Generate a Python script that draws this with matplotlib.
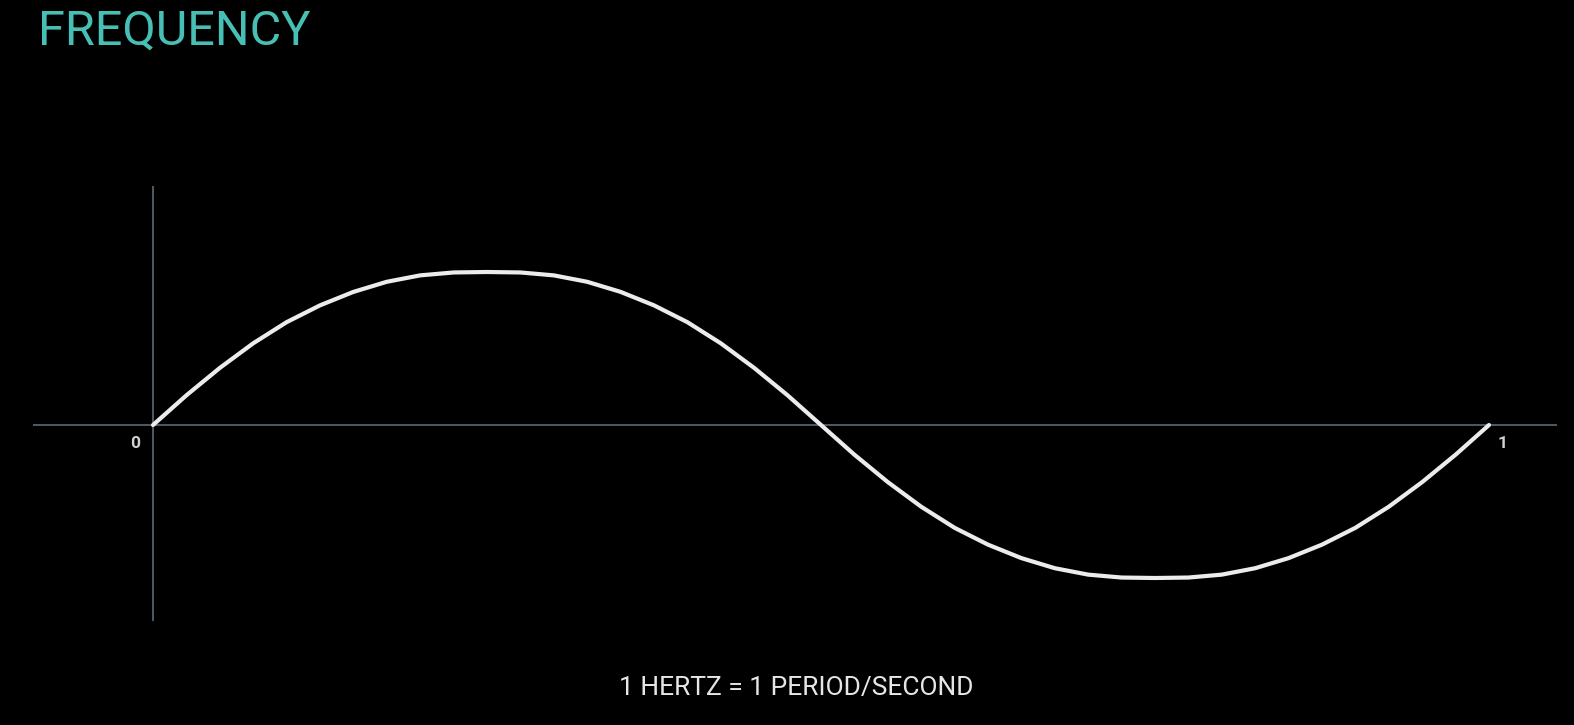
import matplotlib.pyplot as plt

# Values: one period of the wave, time in seconds
t_sec = [0.000, 0.025, 0.050, 0.075, 0.100, 0.125, 0.150, 0.175, 0.200, 0.225,
         0.250, 0.275, 0.300, 0.325, 0.350, 0.375, 0.400, 0.425, 0.450, 0.475,
         0.500, 0.525, 0.550, 0.575, 0.600, 0.625, 0.650, 0.675, 0.700, 0.725,
         0.750, 0.775, 0.800, 0.825, 0.850, 0.875, 0.900, 0.925, 0.950, 0.975,
         1.000]
amplitude = [0.000, 0.194, 0.373, 0.534, 0.672, 0.782, 0.870, 0.936, 0.978, 0.997,
             1.000, 0.997, 0.978, 0.936, 0.870, 0.782, 0.672, 0.534, 0.373, 0.194,
             0.000, -0.194, -0.373, -0.534, -0.672, -0.782, -0.870, -0.936, -0.978, -0.997,
             -1.000, -0.997, -0.978, -0.936, -0.870, -0.782, -0.672, -0.534, -0.373, -0.194,
             0.000]
tick_labels = ['0', '1']

title = 'FREQUENCY'
caption = '1 HERTZ = 1 PERIOD/SECOND'

W, H = 1574, 725
fig = plt.figure(figsize=(W / 100, H / 100), dpi=100, facecolor='black')

# axes box follows the drawn axis lines (pixels 33..1557 wide, 186..621 tall)
ax = fig.add_axes([33 / W, (H - 621) / H, (1557 - 33) / W, (621 - 186) / H])
ax.set_facecolor('black')
ax.set_xlim((33 - 153) / 1336, (1557 - 153) / 1336)
ax.set_ylim((425 - 621) / 153, (425 - 186) / 153)
for s in ax.spines.values():
    s.set_visible(False)
ax.set_xticks([])
ax.set_yticks([])

axis_col = '#56616c'
ax.axhline(0, color=axis_col, lw=1.3, zorder=1)
ax.axvline(0, color=axis_col, lw=1.3, zorder=1)

ax.plot(t_sec, amplitude, color='#ececec', lw=3.0, solid_capstyle='round',
        solid_joinstyle='round', zorder=2)

# tick labels at both ends of the period
ax.annotate(tick_labels[0], (0, 0), xytext=(-12.6, -13), textcoords='offset points',
            ha='center', va='center', color='#d2d2d2', fontsize=12.5,
            fontfamily='Roboto', fontweight='bold')
ax.annotate(tick_labels[1], (1, 0), xytext=(10, -13), textcoords='offset points',
            ha='center', va='center', color='#d2d2d2', fontsize=12.5,
            fontfamily='Roboto', fontweight='bold')

fig.text(38 / W, 1 - 32 / H, title, ha='left', va='center', color='#47bfb5',
         fontsize=35, fontfamily='Roboto', fontweight='normal')
fig.text(796 / W, 1 - 688 / H, caption, ha='center', va='center', color='#e6e6e6',
         fontsize=19, fontfamily='Roboto')

fig.savefig('out.png', dpi=100, facecolor='black')
